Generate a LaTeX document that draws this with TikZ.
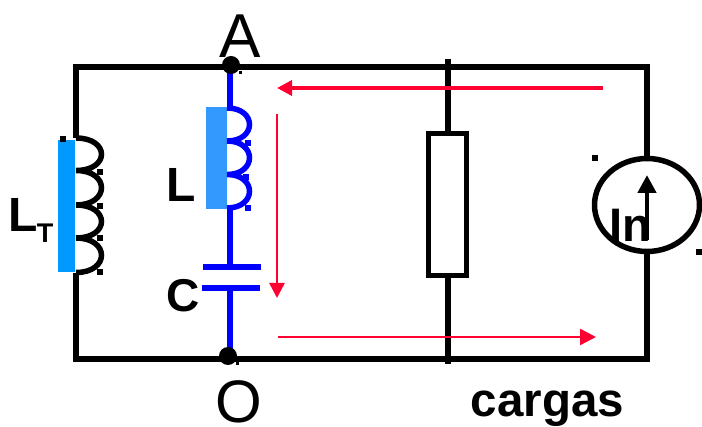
\documentclass[tikz,border=0pt]{standalone}
\usepackage{fontspec}
\setmainfont{Liberation Sans}
\usetikzlibrary{arrows.meta,shapes.geometric}
\definecolor{wireblue}{RGB}{0,0,255}
\definecolor{barT}{RGB}{0,153,255}
\definecolor{barL}{RGB}{51,153,255}
\definecolor{flow}{RGB}{255,0,51}
\newcommand{\fs}[1]{\fontsize{#1}{#1}\selectfont}
\tikzset{
  x=1pt,y=-1pt,
  wire/.style={draw=black,line width=5.5pt},
  bluewire/.style={draw=wireblue,line width=5.5pt},
  flowarrow/.style={draw=flow,line width=2.5pt,-{Triangle[length=15pt,width=15pt]}},
  tick/.style={fill=black,minimum size=6pt,inner sep=0pt,outer sep=0pt,shape=rectangle},
  bluetick/.style={fill=wireblue,minimum size=6pt,inner sep=0pt,outer sep=0pt,shape=rectangle},
  lab/.style={inner sep=0pt,outer sep=0pt,anchor=base,text=black},
  bar/.style={inner sep=0pt,outer sep=0pt,anchor=north west},
  junction/.style={circle,fill=black,minimum size=18pt,inner sep=0pt,outer sep=0pt},
}
\begin{document}
\begin{tikzpicture}
\useasboundingbox (0,0) rectangle (702,427);
% frame corners
\coordinate (tl) at (76,67);
\coordinate (tr) at (647,67);
\coordinate (bl) at (76,359);
\coordinate (br) at (647,359);
\coordinate (ltTop) at (76,138);
\coordinate (ltBot) at (76,273);
\coordinate (rTopEnd) at (448,59);
\coordinate (rBotEnd) at (448,364);
\coordinate (nA) at (231,65);
\coordinate (nO) at (228,356);
\coordinate (bTop) at (230,65);
\coordinate (bBot) at (230,356);
\coordinate (lTop) at (230,108);
\coordinate (lBot) at (230,208);
\coordinate (c1) at (230,267);
\coordinate (c2) at (230,286);
\coordinate (c1l) at (203,267);
\coordinate (c1r) at (261,267);
\coordinate (c2l) at (202,288);
\coordinate (c2r) at (260,288);
\coordinate (a1s) at (603,88);
\coordinate (a1e) at (277,88);
\coordinate (a2s) at (277,114);
\coordinate (a2e) at (277,298);
\coordinate (a3s) at (278,337);
\coordinate (a3e) at (596,337);
\coordinate (inS) at (647,240);
\coordinate (inE) at (647,175);
% black wires
\draw[wire,line join=miter] (ltTop) -- (tl) -- (tr) -- (647,160);
\draw[wire,line join=miter] (ltBot) -- (bl) -- (br) -- (647,250);
% resistor
\draw[wire] (rTopEnd) -- (rBotEnd);
\node[draw=black,line width=5.5pt,fill=white,minimum width=38pt,minimum height=142pt,inner sep=0pt,outer sep=0pt] (R) at (447.5,204.5) {};
% L_T bar and coil
\node[bar,fill=barT,minimum width=17pt,minimum height=132pt] (barLT) at (58,140) {};
\draw[wire] (76,138) .. controls (110,138) and (110,170.5) .. (76,170.5)
  .. controls (110,170.5) and (110,205) .. (76,205)
  .. controls (110,205) and (110,238) .. (76,238)
  .. controls (110,238) and (110,272.5) .. (76,272.5);
\node[tick] (t1) at (63,139) {};
\node[tick] (t2) at (100,172) {};
\node[tick] (t3) at (100,206) {};
\node[tick] (t4) at (100,238) {};
\node[tick] (t5) at (100,272) {};
% blue branch
\draw[bluewire] (bTop) -- (lTop);
\draw[bluewire] (lBot) -- (c1);
\draw[bluewire] (c2) -- (bBot);
\draw[bluewire] (c1l) -- (c1r);
\draw[bluewire] (c2l) -- (c2r);
\node[bar,fill=barL,minimum width=21pt,minimum height=102pt] (barLL) at (206,107) {};
\draw[bluewire] (227,108) .. controls (257,108) and (257,141) .. (227,141)
  .. controls (257,141) and (257,174.5) .. (227,174.5)
  .. controls (257,174.5) and (257,208) .. (227,208);
\node[bluetick] (u1) at (248,143) {};
\node[bluetick] (u2) at (246,177) {};
\node[bluetick] (u3) at (248,208) {};
% junctions
\node[junction] (dotA) at (nA) {};
\node[junction] (dotO) at (nO) {};
\node[tick,minimum size=3pt] (t6) at (240,73) {};
\node[tick,minimum size=3pt] (t7) at (237,364) {};
% source
\node[draw=black,line width=5.5pt,ellipse,minimum width=105pt,minimum height=93pt,inner sep=0pt,outer sep=0pt] (src) at (647,205) {};
\draw[draw=black,line width=4.5pt,-{Triangle[length=18pt,width=18pt]}] (inS) -- (inE);
\node[tick] (t8) at (594.5,158) {};
\node[tick] (t9) at (699,252) {};
% flow arrows
\draw[flowarrow,line width=3.5pt] (a1s) -- (a1e);
\draw[flowarrow] (a2s) -- (a2e);
\draw[flowarrow,-{Triangle[length=16pt,width=16pt]}] (a3s) -- (a3e);
% labels
\node[lab] (lA) at (240,58) {\fs{62}A};
\node[lab] (lO) at (239,423) {\fs{60}O};
\node[lab] (lL) at (181,202) {\fs{48}\bfseries L};
\node[lab] (lC) at (183,312) {\fs{46}\bfseries C};
\node[lab] (lLT) at (23,232) {\fs{48}\bfseries L};
\node[lab] (lT) at (45,243) {\fs{27}\bfseries T};
\node[lab] (lIn) at (630,242) {\fs{47}\bfseries In};
\node[lab] (lcargas) at (547.5,417) {\fs{47.5}\bfseries cargas};
\end{tikzpicture}
\end{document}
